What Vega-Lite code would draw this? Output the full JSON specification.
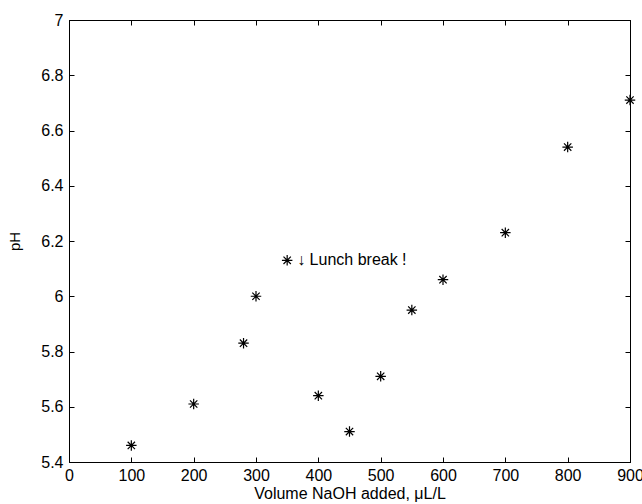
{
  "$schema": "https://vega.github.io/schema/vega-lite/v6.json",
  "width": 561,
  "height": 442,
  "autosize": {"type": "none"},
  "padding": {"left": 69, "top": 20, "right": 12, "bottom": 42},
  "background": "white",
  "config": {
    "view": {"stroke": "black", "strokeWidth": 1},
    "axis": {
      "grid": false,
      "domainColor": "black",
      "domainWidth": 1,
      "tickColor": "black",
      "tickWidth": 1,
      "tickSize": -5,
      "labelFont": "Liberation Sans",
      "labelFontSize": 16,
      "labelColor": "black",
      "titleFont": "Liberation Sans",
      "titleFontSize": 16,
      "titleFontWeight": "normal",
      "titleColor": "black"
    }
  },
  "data": {
    "values": [
      {"volume": 100, "pH": 5.46},
      {"volume": 200, "pH": 5.61},
      {"volume": 280, "pH": 5.83},
      {"volume": 300, "pH": 6.0},
      {"volume": 350, "pH": 6.13, "note": "↓ Lunch break !"},
      {"volume": 400, "pH": 5.64},
      {"volume": 450, "pH": 5.51},
      {"volume": 500, "pH": 5.71},
      {"volume": 550, "pH": 5.95},
      {"volume": 600, "pH": 6.06},
      {"volume": 700, "pH": 6.23},
      {"volume": 800, "pH": 6.54},
      {"volume": 900, "pH": 6.71}
    ]
  },
  "layer": [
    {
      "mark": {
        "type": "point",
        "shape": "M-1,0L1,0M0,-1L0,1M-0.7,-0.7L0.7,0.7M-0.7,0.7L0.7,-0.7",
        "filled": false,
        "stroke": "black",
        "strokeWidth": 1.2,
        "size": 110,
        "opacity": 1
      },
      "encoding": {
        "x": {
          "field": "volume",
          "type": "quantitative",
          "scale": {"domain": [0, 900], "nice": false, "zero": false},
          "axis": {"orient": "bottom", "values": [0,100,200,300,400,500,600,700,800,900], "title": "Volume NaOH added, μL/L", "labelPadding": 10, "titlePadding": 2, "labelFlush": false}
        },
        "y": {
          "field": "pH",
          "type": "quantitative",
          "scale": {"domain": [5.4, 7], "nice": false, "zero": false},
          "axis": {"orient": "left", "values": [5.4,5.6,5.8,6.0,6.2,6.4,6.6,6.8,7.0], "title": "pH", "titleFontSize": 15, "labelPadding": 11, "titlePadding": 18, "labelFlush": false, "format": "~g"}
        }
      }
    },
    {
      "transform": [{"filter": "isValid(datum.note)"}],
      "mark": {
        "type": "text",
        "align": "left",
        "baseline": "middle",
        "dx": 10,
        "font": "Liberation Sans",
        "fontSize": 16,
        "color": "black"
      },
      "encoding": {
        "x": {
          "field": "volume",
          "type": "quantitative",
          "axis": {"orient": "top", "values": [0,100,200,300,400,500,600,700,800,900], "labels": false, "title": null}
        },
        "y": {
          "field": "pH",
          "type": "quantitative",
          "axis": {"orient": "right", "values": [5.4,5.6,5.8,6.0,6.2,6.4,6.6,6.8,7.0], "labels": false, "title": null}
        },
        "text": {"field": "note"}
      }
    }
  ],
  "resolve": {"axis": {"x": "independent", "y": "independent"}}
}
